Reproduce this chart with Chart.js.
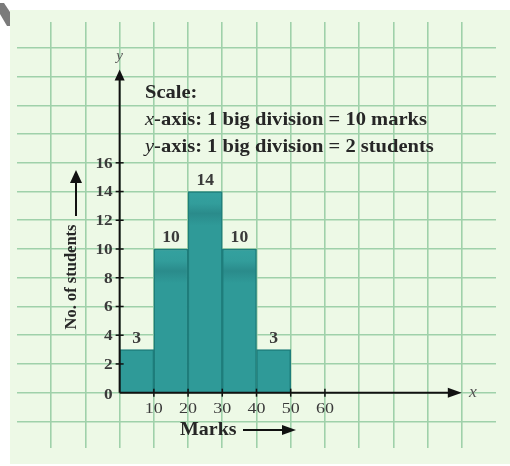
<!DOCTYPE html>
<html lang="en">
<head>
<meta charset="UTF-8">
<title>Marks histogram</title>
<style>
    body { margin: 0; background: #ffffff; }
    #wrap { width: 510px; height: 466px; }
</style>
</head>
<body>
<div id="wrap"><canvas id="histChart" width="510" height="466"></canvas></div>

<script src="https://cdn.jsdelivr.net/npm/chart.js"></script>
<script>
    // class intervals 0-10, 10-20, ... plotted at their mid points
    const classMids = [5, 15, 25, 35, 45];
    const students = [3, 10, 14, 10, 3];
    const xTickLabels = [10, 20, 30, 40, 50, 60];
    const yTickLabels = [0, 2, 4, 6, 8, 10, 12, 14, 16];
    const xGridValues = [-20, -10, 0, 10, 20, 30, 40, 50, 60, 70, 80, 90, 100];
    const yGridValues = [-2, 0, 2, 4, 6, 8, 10, 12, 14, 16, 18, 20, 22, 24];
    const scaleNotes = ['Scale:', 'x-axis: 1 big division = 10 marks', 'y-axis: 1 big division = 2 students'];

    const paper = '#edf9e6';
    const gridGreen = '#9fd1aa';
    const ink = '#262626';
    const serif = '"Liberation Serif", "Times New Roman", serif';

    function putText(c, text, x, y, font, align, sx, color) {
        c.save();
        c.font = font;
        c.fillStyle = color || ink;
        c.textAlign = align;
        c.textBaseline = 'middle';
        c.translate(x, y);
        c.scale(sx || 1, 1);
        c.fillText(text, 0, 0);
        c.restore();
    }

    function arrowHead(c, tipX, tipY, dir, len, half) {
        // dir: 'up' or 'right'
        c.beginPath();
        if (dir === 'up') {
            c.moveTo(tipX, tipY);
            c.lineTo(tipX - half, tipY + len);
            c.lineTo(tipX + half, tipY + len);
        } else {
            c.moveTo(tipX, tipY);
            c.lineTo(tipX - len, tipY - half);
            c.lineTo(tipX - len, tipY + half);
        }
        c.closePath();
        c.fill();
    }

    // light green sheet behind the graph paper
    const paperPlugin = {
        id: 'paper',
        beforeDraw(chart) {
            const c = chart.ctx;
            c.save();
            c.fillStyle = '#ffffff';
            c.fillRect(0, 0, chart.width, chart.height);
            c.fillStyle = paper;
            c.fillRect(10, 10, chart.width - 10, chart.height - 12);
            // dark corner in the top left
            c.fillStyle = '#7b7b7b';
            c.beginPath();
            c.moveTo(0, 3);
            c.lineTo(4, 3);
            c.lineTo(10, 12);
            c.lineTo(10, 26);
            c.lineTo(7, 26);
            c.lineTo(0, 14);
            c.closePath();
            c.fill();
            c.restore();
        }
    };

    // axes, arrows, tick labels, bar values and the scale note
    const annotatePlugin = {
        id: 'annotate',
        afterDatasetsDraw(chart) {
            const c = chart.ctx;
            const xs = chart.scales.x;
            const ys = chart.scales.y;
            const x0 = xs.getPixelForValue(0);
            const y0 = ys.getPixelForValue(0);
            const yTip = ys.getPixelForValue(22.5);
            const xTip = xs.getPixelForValue(100);
            const tickInk = '#3a3a3a';

            c.save();
            c.strokeStyle = '#111111';
            c.fillStyle = '#111111';
            c.lineWidth = 2;

            // y axis
            c.beginPath();
            c.moveTo(x0, y0);
            c.lineTo(x0, yTip + 6);
            c.stroke();
            arrowHead(c, x0, yTip, 'up', 11, 5);

            // x axis
            c.beginPath();
            c.moveTo(x0, y0);
            c.lineTo(xTip - 6, y0);
            c.stroke();
            arrowHead(c, xTip, y0, 'right', 14, 5);

            // tick marks
            c.lineWidth = 1.5;
            yTickLabels.forEach(v => {
                if (v === 0) return;
                const py = ys.getPixelForValue(v);
                c.beginPath();
                c.moveTo(x0 - 4, py);
                c.lineTo(x0 + 4, py);
                c.stroke();
            });
            xTickLabels.forEach(v => {
                const px = xs.getPixelForValue(v);
                c.beginPath();
                c.moveTo(px, y0 - 4);
                c.lineTo(px, y0 + 4);
                c.stroke();
            });
            c.restore();

            // tick labels
            yTickLabels.forEach(v => {
                const py = ys.getPixelForValue(v);
                putText(c, String(v), x0 - 7, py + (v === 0 ? 2 : 1), 'bold 15px ' + serif, 'right', 1.15, tickInk);
            });
            xTickLabels.forEach(v => {
                putText(c, String(v), xs.getPixelForValue(v), y0 + 16, '15px ' + serif, 'center', 1.2, tickInk);
            });

            // axis letters
            putText(c, 'y', x0, yTip - 13, 'italic 15px ' + serif, 'center', 1, '#555555');
            putText(c, 'x', xTip + 11, y0, 'italic 16px ' + serif, 'center', 1.1, '#555555');

            // values above the bars
            const meta = chart.getDatasetMeta(0);
            meta.data.forEach((bar, i) => {
                putText(c, String(students[i]), bar.x, bar.y - 11, 'bold 16px ' + serif, 'center', 1.1, tickInk);
            });

            // axis titles with arrows
            c.save();
            c.translate(72, 277);
            c.rotate(-Math.PI / 2);
            putText(c, 'No. of students', 0, 0, 'bold 16.5px ' + serif, 'center', 1);
            c.restore();
            c.save();
            c.strokeStyle = '#111111';
            c.fillStyle = '#111111';
            c.lineWidth = 2;
            c.beginPath();
            c.moveTo(76, 216);
            c.lineTo(76, 180);
            c.stroke();
            arrowHead(c, 76, 170, 'up', 13, 6);

            putText(c, 'Marks', 180, 430, 'bold 19px ' + serif, 'left', 1.05);
            c.beginPath();
            c.moveTo(243, 430);
            c.lineTo(285, 430);
            c.stroke();
            arrowHead(c, 296, 430, 'right', 14, 5);
            c.restore();

            // scale note
            putText(c, scaleNotes[0], 145, 93, 'bold 19px ' + serif, 'left', 1.08);
            [1, 2].forEach(k => {
                const line = scaleNotes[k];
                const py = 93 + 27 * k;
                c.save();
                c.font = 'italic 19px ' + serif;
                const w = c.measureText(line[0]).width * 1.08;
                c.restore();
                putText(c, line[0], 145, py, 'italic 19px ' + serif, 'left', 1.08);
                putText(c, line.slice(1), 145 + w, py, 'bold 19px ' + serif, 'left', 1.08);
            });
        }
    };

    // teal fill, a little darker a short way below each bar top
    function barFill(context) {
        const chart = context.chart;
        const ys = chart.scales.y;
        const plain = '#2f9a98';
        if (!ys || context.type !== 'data' || !chart.chartArea) return plain;
        const top = ys.getPixelForValue(context.raw.y);
        const base = ys.getPixelForValue(0);
        if (!isFinite(top) || !isFinite(base)) return plain;
        const h = base - top;
        if (h < 80) return plain;
        const g = chart.ctx.createLinearGradient(0, top, 0, base);
        const a = 12 / h, b = 22 / h, d = 34 / h;
        g.addColorStop(0, '#34a19f');
        g.addColorStop(a, '#329d9b');
        g.addColorStop(b, '#2a8b8b');
        g.addColorStop(d, plain);
        g.addColorStop(1, plain);
        return g;
    }

    const ctx = document.getElementById('histChart').getContext('2d');
    new Chart(ctx, {
        type: 'bar',
        data: {
            datasets: [{
                label: 'No. of students',
                data: classMids.map((m, i) => ({ x: m, y: students[i] })),
                backgroundColor: barFill,
                borderColor: '#1e7d7b',
                borderWidth: 1.5,
                barPercentage: 1,
                categoryPercentage: 1
            }]
        },
        options: {
            responsive: false,
            animation: false,
            layout: { padding: { left: 17, right: 14, top: 22, bottom: 18 } },
            plugins: {
                legend: { display: false },
                tooltip: { enabled: false }
            },
            scales: {
                x: {
                    type: 'linear',
                    min: -30,
                    max: 110,
                    offset: false,
                    afterBuildTicks: scale => { scale.ticks = xGridValues.map(v => ({ value: v })); },
                    ticks: { display: false },
                    border: { display: false },
                    grid: { color: gridGreen, lineWidth: 1.6, drawTicks: false, offset: false }
                },
                y: {
                    type: 'linear',
                    min: -3.85,
                    max: 25.8,
                    afterBuildTicks: scale => { scale.ticks = yGridValues.map(v => ({ value: v })); },
                    ticks: { display: false },
                    border: { display: false },
                    grid: { color: gridGreen, lineWidth: 1.6, drawTicks: false }
                }
            }
        },
        plugins: [paperPlugin, annotatePlugin]
    });
</script>
</body>
</html>
